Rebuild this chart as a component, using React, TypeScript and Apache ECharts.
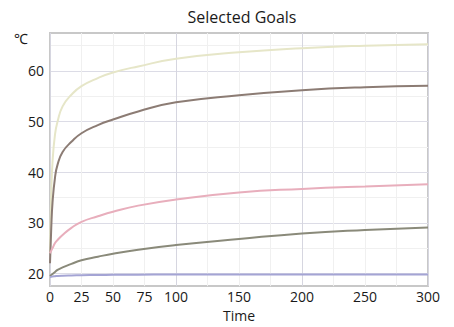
import React, { useEffect, useRef } from "react";
import * as echarts from "echarts";

const times = [0, 1, 2, 4, 6, 10, 17, 25, 38, 50, 70, 100, 150, 200, 250, 300];
const yellowValues = [24, 36, 42, 47.5, 50, 53, 55.3, 57, 58.6, 59.7, 60.9, 62.4, 63.7, 64.5, 65, 65.3];
const darkValues = [22, 29, 34, 39, 41.5, 44, 46, 47.7, 49.3, 50.4, 52, 53.8, 55.2, 56.2, 56.8, 57.1];
const pinkValues = [24, 24.5, 25, 26, 26.6, 27.6, 29, 30.2, 31.3, 32.2, 33.4, 34.6, 36, 36.7, 37.2, 37.6];
const grayValues = [19.5, 19.7, 19.9, 20.3, 20.7, 21.2, 21.9, 22.6, 23.3, 23.9, 24.7, 25.6, 26.8, 27.9, 28.6, 29.1];
const blueValues = [19.3, 19.35, 19.4, 19.45, 19.5, 19.55, 19.6, 19.65, 19.7, 19.72, 19.75, 19.8, 19.8, 19.8, 19.8, 19.8];
const xTickLabels = [0, 25, 50, 75, 100, 150, 200, 250, 300];
const yTickLabels = [20, 30, 40, 50, 60];

const seriesDefs = [
  { name: "Goal 1", values: yellowValues, color: "#e6e6c8" },
  { name: "Goal 2", values: darkValues, color: "#8c7c74" },
  { name: "Goal 3", values: pinkValues, color: "#e8aebc" },
  { name: "Goal 4", values: grayValues, color: "#8a8a7a" },
  { name: "Goal 5", values: blueValues, color: "#a4a4d4" },
];

const FONT = "'Open Sans', 'Noto Sans', sans-serif";

export default function App() {
  const ref = useRef<HTMLDivElement>(null);
  useEffect(() => {
    if (!ref.current) return;
    const chart = echarts.init(ref.current, null, { renderer: "svg" });
    chart.setOption({
      animation: false,
      backgroundColor: "#ffffff",
      title: {
        text: "Selected Goals",
        left: 237,
        top: 4,
        textAlign: "center",
        textStyle: { fontFamily: FONT, fontSize: 16, fontWeight: "normal", color: "#1a1a1a" },
      },
      graphic: [
        {
          type: "text",
          left: 14,
          top: 31,
          style: { text: "℃", font: `14px ${FONT}`, fill: "#1a1a1a" },
        },
      ],
      grid: {
        left: 50,
        right: 26,
        top: 33,
        bottom: 35,
        show: true,
        borderColor: "#c8c8c8",
        borderWidth: 2,
        backgroundColor: "#fff",
      },
      xAxis: {
        type: "value",
        min: 0,
        max: 300,
        interval: 25,
        name: "Time",
        nameLocation: "middle",
        nameGap: 21,
        nameTextStyle: { fontFamily: FONT, fontSize: 14, color: "#1a1a1a" },
        axisLine: { show: false },
        axisTick: { show: false },
        axisLabel: {
          margin: 3,
          fontFamily: FONT,
          fontSize: 14,
          color: "#1a1a1a",
          formatter: (v: number) => (xTickLabels.includes(v) ? String(v) : ""),
        },
        splitLine: {
          show: true,
          lineStyle: { color: ["#d6d6e0", "#f0f0f0", "#f0f0f0", "#f0f0f0"], width: 1 },
        },
      },
      yAxis: {
        type: "value",
        min: 17.5,
        max: 67.5,
        interval: 2.5,
        axisLine: { show: false },
        axisTick: { show: false },
        axisLabel: {
          margin: 6,
          fontFamily: FONT,
          fontSize: 14,
          color: "#1a1a1a",
          showMinLabel: false,
          showMaxLabel: false,
          formatter: (v: number) => (yTickLabels.includes(v) ? String(v) : ""),
        },
        splitLine: {
          show: true,
          lineStyle: { color: ["rgba(0,0,0,0)", "#dcdce6", "rgba(0,0,0,0)", "#f0f0f0"], width: 1 },
        },
      },
      series: seriesDefs.map((s) => ({
        name: s.name,
        type: "line",
        smooth: true,
        showSymbol: false,
        data: times.map((t, i) => [t, s.values[i]]),
        lineStyle: { color: s.color, width: 2 },
        itemStyle: { color: s.color },
      })),
    });
    return () => chart.dispose();
  }, []);
  return (
    <div
      ref={ref}
      style={{ position: "fixed", left: 0, top: 0, width: 454, height: 327 }}
    />
  );
}
